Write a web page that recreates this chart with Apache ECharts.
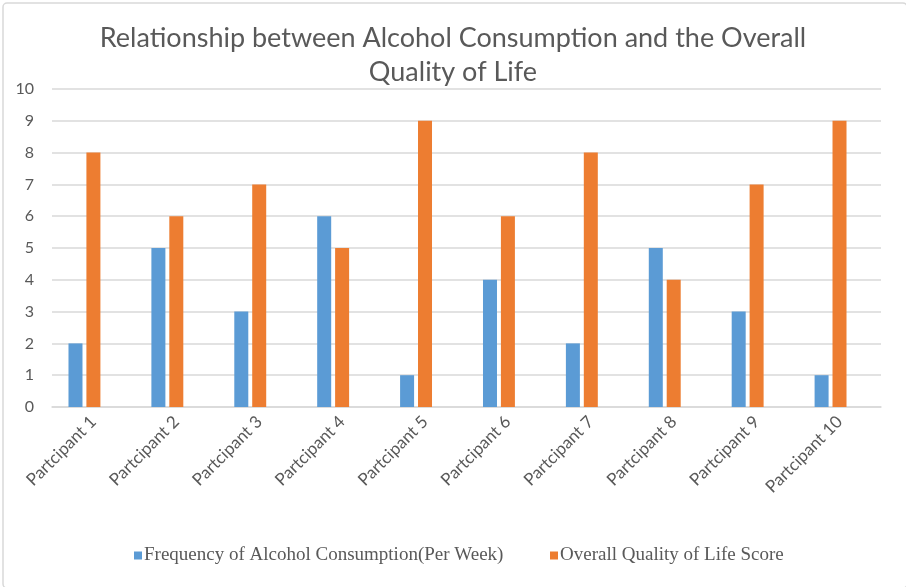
<!DOCTYPE html>
<html>
<head>
<meta charset="utf-8">
<script src="https://cdn.jsdelivr.net/npm/echarts@6/dist/echarts.min.js"></script>
<style>
html,body{margin:0;padding:0;background:#fff;}
#main{width:906px;height:587px;}
</style>
</head>
<body>
<div id="main"></div>
<script>
var titleText = 'Relationship between Alcohol Consumption and the Overall\nQuality of Life';
var categories = ['Partcipant 1','Partcipant 2','Partcipant 3','Partcipant 4','Partcipant 5','Partcipant 6','Partcipant 7','Partcipant 8','Partcipant 9','Partcipant 10'];
var seriesNames = ['Frequency of Alcohol Consumption(Per Week)', 'Overall Quality of Life Score'];
var frequency = [2,5,3,6,1,4,2,5,3,1];
var qualityScore = [8,6,7,5,9,6,8,4,7,9];

var chart = echarts.init(document.getElementById('main'), null, {renderer:'canvas'});
var grey = '#595959';
chart.setOption({
  backgroundColor: '#ffffff',
  animation: false,
  graphic: [{
    type: 'rect', left: 0.5, top: 0.5, silent: true,
    shape: {width: 904, height: 585, r: 4},
    style: {fill: 'none', stroke: '#D9D9D9', lineWidth: 1.5}
  }],
  title: {
    text: titleText, left: 'center', top: 16,
    textStyle: {fontFamily: 'Lato', fontSize: 27, fontWeight: 'normal', color: grey, lineHeight: 34}
  },
  legend: [{
    data: [seriesNames[0]], left: 129, top: 541, itemWidth: 8, itemHeight: 8, icon: 'rect',
    textStyle: {fontFamily: 'Liberation Serif', fontSize: 19, color: grey, padding: [0,0,0,-3]}
  },{
    data: [seriesNames[1]], left: 545, top: 541, itemWidth: 8, itemHeight: 8, icon: 'rect',
    textStyle: {fontFamily: 'Liberation Serif', fontSize: 19, color: grey, padding: [0,0,0,-3]}
  }],
  grid: [
    {left: 52, right: 25, top: 89, bottom: 180},
    {left: 43, right: 34, top: 89, bottom: 180}
  ],
  xAxis: [{
    type: 'category', gridIndex: 0, data: categories,
    axisLine: {lineStyle: {color: '#D9D9D9', width: 1.5}},
    axisTick: {show: false},
    axisLabel: {rotate: 45, margin: 12, interval: 0, fontFamily: 'Lato', fontSize: 17, color: grey}
  },{
    type: 'category', gridIndex: 1, data: categories,
    axisLine: {show: false}, axisTick: {show: false}, axisLabel: {show: false}
  }],
  yAxis: [{
    type: 'value', gridIndex: 0, min: 0, max: 10, interval: 1,
    axisLine: {show: false}, axisTick: {show: false},
    axisLabel: {margin: 18, fontFamily: 'Lato', fontSize: 16, color: grey},
    splitLine: {lineStyle: {color: '#D9D9D9', width: 1.5}}
  },{
    type: 'value', gridIndex: 1, min: 0, max: 10, interval: 1,
    show: false, splitLine: {show: false}
  }],
  series: [{
    name: seriesNames[0], type: 'bar', xAxisIndex: 1, yAxisIndex: 1,
    data: frequency, barWidth: 14, barGap: '28%',
    itemStyle: {color: '#5B9BD5'}
  },{
    name: seriesNames[1], type: 'bar', xAxisIndex: 1, yAxisIndex: 1,
    data: qualityScore, barWidth: 14, barGap: '28%',
    itemStyle: {color: '#ED7D31'}
  }]
});
</script>
</body>
</html>
